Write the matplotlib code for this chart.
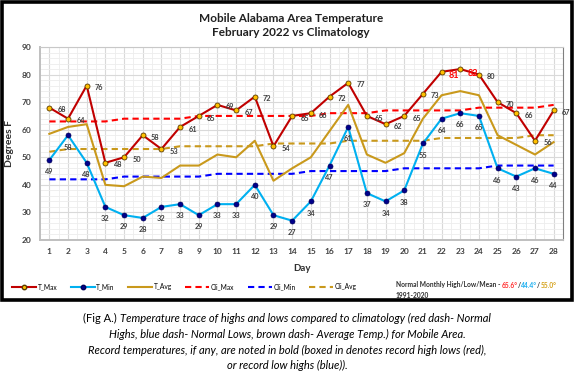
import matplotlib
matplotlib.use("Agg")
import matplotlib.pyplot as plt
from matplotlib.lines import Line2D
from matplotlib.patches import Rectangle
from matplotlib.ticker import MultipleLocator

plt.rcParams["font.family"] = ["Lato", "DejaVu Sans"]

days = list(range(1, 29))
t_max = [68, 64, 76, 48, 50, 58, 53, 61, 65, 69, 67, 72, 54, 65,
         66, 72, 77, 65, 62, 65, 73, 81, 82, 80, 70, 66, 56, 67]
t_min = [49, 58, 48, 32, 29, 28, 32, 33, 29, 33, 33, 40, 29, 27,
         34, 47, 61, 37, 34, 38, 55, 64, 66, 65, 46, 43, 46, 44]
t_avg = [58.5, 61, 62, 40, 39.5, 43, 42.5, 47, 47, 51, 50, 56, 41.5, 46,
         50, 59.5, 69, 51, 48, 51.5, 64, 72.5, 74, 72.5, 58, 54.5, 51, 55.5]
cli_max = [63, 63, 63, 63, 64, 64, 64, 64, 65, 65, 65, 65, 65, 65,
           65, 66, 66, 66, 67, 67, 67, 67, 67, 68, 68, 68, 68, 69]
cli_min = [42, 42, 42, 42, 43, 43, 43, 43, 43, 44, 44, 44, 44, 44,
           45, 45, 45, 45, 45, 46, 46, 46, 46, 46, 47, 47, 47, 47]
cli_avg = [52, 53, 53, 53, 53, 53, 53, 54, 54, 54, 54, 54, 55, 55,
           55, 55, 56, 56, 56, 56, 56, 57, 57, 57, 57, 57, 58, 58]
record_days = [22, 23]  # record highs shown in red

RED = "#C00000"
CYAN = "#00B0F0"
GOLD = "#C9991C"
LABEL = "#404040"

fig = plt.figure(figsize=(5.74, 3.73), dpi=100)
W, H = 574, 373


def fx(px):
    return px / W


def fy(py):
    return 1 - py / H


ax = fig.add_axes([fx(40), fy(240), fx(563) - fx(40), fy(47) - fy(240)])

ax.plot(days, cli_max, color="#FF0000", lw=1.5, ls=(0, (3, 2)), zorder=2)
ax.plot(days, cli_min, color="#0000FF", lw=1.5, ls=(0, (3, 2)), zorder=2)
ax.plot(days, cli_avg, color=GOLD, lw=1.5, ls=(0, (3, 2)), zorder=2)
ax.plot(days, t_avg, color=GOLD, lw=1.5, zorder=3)
ax.plot(days, t_max, color=RED, lw=1.5, marker="o", ms=3.6,
        mfc="#FFC000", mec="#5A3A00", mew=0.6, zorder=4)
ax.plot(days, t_min, color=CYAN, lw=1.5, marker="o", ms=3.6,
        mfc="#00008B", mec="#00005A", mew=0.5, zorder=4)

for d, v in zip(days, t_max):
    if d in record_days:
        ax.annotate(str(v), (d, v), xytext=(9, -3), textcoords="offset points",
                    ha="center", va="center", fontsize=6.5, fontweight="bold",
                    color="#FF0000", zorder=5)
    else:
        ax.annotate(str(v), (d, v), xytext=(9, -1.5), textcoords="offset points",
                    ha="center", va="center", fontsize=5.3, fontweight="bold",
                    color=LABEL, zorder=5, annotation_clip=False)
for d, v in zip(days, t_min):
    ax.annotate(str(v), (d, v), xytext=(0, -8.5), textcoords="offset points",
                ha="center", va="center", fontsize=5.3, fontweight="bold",
                color=LABEL, zorder=5)

ax.set_xlim(0.5, 28.5)
ax.set_ylim(20, 90)
ax.set_xticks(days)
ax.set_yticks(range(20, 91, 10))
ax.xaxis.set_minor_locator(MultipleLocator(0.5))
ax.yaxis.set_minor_locator(MultipleLocator(2))
ax.grid(which="major", color="#D9D9D9", lw=0.8)
ax.grid(which="minor", color="#EDEDED", lw=0.6)
ax.set_axisbelow(True)
ax.tick_params(which="both", length=0)
ax.tick_params(axis="both", labelsize=6, labelcolor=LABEL, pad=6)
for lab in ax.get_xticklabels() + ax.get_yticklabels():
    lab.set_fontweight("bold")
for side in ["top", "right"]:
    ax.spines[side].set_color("#C8C8C8")
    ax.spines[side].set_linewidth(0.8)
ax.spines["right"].set_color("#808080")
for side in ["left", "bottom"]:
    ax.spines[side].set_color("#BFBFBF")
    ax.spines[side].set_linewidth(1.4)

ax.set_xlabel("Day", fontsize=7, fontweight="bold", color="#303030", labelpad=6)
ax.set_ylabel("Degrees F", fontsize=7.5, fontweight="bold", color="#303030", labelpad=6)

fig.text(fx(291), fy(18), "Mobile Alabama Area Temperature", ha="center", va="center",
         fontsize=8.5, fontweight="bold", color="#202020")
fig.text(fx(291), fy(33), "February 2022 vs Climatology", ha="center", va="center",
         fontsize=8.5, fontweight="bold", color="#202020")

handles = [
    Line2D([], [], color=RED, lw=1.5, marker="o", ms=3.2, mfc="#FFC000", mec="#5A3A00"),
    Line2D([], [], color=CYAN, lw=1.5, marker="o", ms=3.2, mfc="#00008B", mec="#00005A"),
    Line2D([], [], color=GOLD, lw=1.5),
    Line2D([], [], color="#FF0000", lw=1.5, ls=(0, (3, 2))),
    Line2D([], [], color="#0000FF", lw=1.5, ls=(0, (3, 2))),
    Line2D([], [], color=GOLD, lw=1.5, ls=(0, (3, 2))),
]
names = ["T_Max", "T_Min", "T_Avg", "Cli_Max", "Cli_Min", "Cli_Avg"]
fig.legend(handles, names, loc="center left", bbox_to_anchor=(fx(12), fy(287)),
           ncol=6, frameon=False, fontsize=4.8, handlelength=3.6,
           handletextpad=0.25, columnspacing=2.0, borderaxespad=0, borderpad=0)

# normals note, with coloured values
note_size = 4.8
note_y = fy(285)
t0 = fig.text(fx(396), note_y, "Normal Monthly High/Low/Mean - ", ha="left", va="center",
              fontsize=note_size, fontweight="bold", color="#303030")
fig.text(fx(396), fy(295), "1991-2020", ha="left", va="center",
         fontsize=note_size, fontweight="bold", color="#303030")
fig.canvas.draw()
r = fig.canvas.get_renderer()
x = t0.get_window_extent(r).x1
for s, c in [("65.6°", "#FF3030"), ("/", "#303030"), ("44.4°", "#20B0F0"),
             ("/", "#303030"), ("55.0°", "#D4A017")]:
    t = fig.text(x / W, note_y, s, ha="left", va="center", fontsize=note_size,
                 fontweight="bold", color=c)
    x = t.get_window_extent(r).x1

fig.add_artist(Rectangle((fx(1.5), fy(300)), fx(571.5) - fx(1.5), fy(1.5) - fy(300),
                         transform=fig.transFigure, fill=False, ec="black", lw=2.6))

# caption
cap_size = 8
first = fig.text(0, fy(318), "(Fig A.) ", ha="left", va="center", fontsize=cap_size)
rest = fig.text(0, fy(318), "Temperature trace of highs and lows compared to climatology (red dash- Normal",
                ha="left", va="center", fontsize=cap_size, style="italic")
fig.canvas.draw()
w1 = first.get_window_extent(r).width
w2 = rest.get_window_extent(r).width
start = 287 - (w1 + w2) / 2
first.set_x(start / W)
rest.set_x((start + w1) / W)
for yy, line in [(334, "Highs, blue dash- Normal Lows, brown dash- Average Temp.) for Mobile Area."),
                 (350, "Record temperatures, if any, are noted in bold (boxed in denotes record high lows (red),"),
                 (365, "or record low highs (blue)).")]:
    fig.text(fx(287), fy(yy), line, ha="center", va="center", fontsize=cap_size, style="italic")

fig.savefig("out.png", dpi=100)
